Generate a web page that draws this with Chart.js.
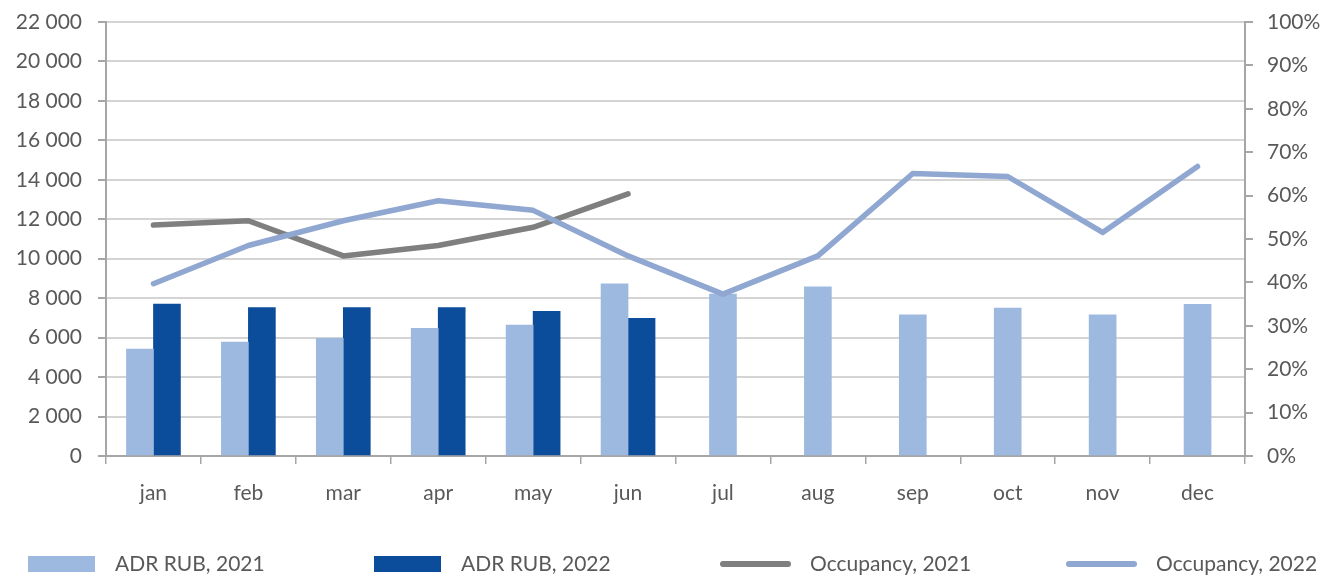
<!DOCTYPE html>
<html>
<head>
<meta charset="utf-8">
<script src="https://cdn.jsdelivr.net/npm/chart.js@4.4.0/dist/chart.umd.min.js"></script>
<style>
  html, body { margin: 0; padding: 0; background: #ffffff; }
  #wrap { width: 1337px; height: 577px; position: relative; }
</style>
</head>
<body>
<div id="wrap"><canvas id="c"></canvas></div>
<script>
// ---- data ----
const months = ['jan', 'feb', 'mar', 'apr', 'may', 'jun', 'jul', 'aug', 'sep', 'oct', 'nov', 'dec'];
const adr2021 = [5420, 5780, 5970, 6470, 6640, 8730, 8210, 8570, 7160, 7500, 7160, 7690];
const adr2022 = [7700, 7520, 7520, 7520, 7330, 6980, null, null, null, null, null, null];
const occ2021 = [53.2, 54.2, 46.1, 48.5, 52.7, 60.4, null, null, null, null, null, null];
const occ2022 = [39.7, 48.5, 54.2, 58.8, 56.6, 46.1, 37.3, 46.1, 65.1, 64.4, 51.5, 66.7];
const seriesLabels = ['ADR RUB, 2021', 'ADR RUB, 2022', 'Occupancy, 2021', 'Occupancy, 2022'];
const leftAxis = { min: 0, max: 22000, step: 2000 };
const rightAxis = { min: 0, max: 100, step: 10 };

// ---- styles ----
const COL = {
  bar21: '#9db9df', bar22: '#0c4d9b', occ21: '#7f7f80', occ22: '#8fa7d1',
  axis: '#a6a6a6', grid: '#d4d4d4', text: '#595959'
};
const FONT = 'Lato';

function fmtThousands(v) {
  return String(v).replace(/\B(?=(\d{3})+(?!\d))/g, '\u2005');
}

const customLegend = {
  id: 'customLegend',
  afterDraw(chart, args, opts) {
    const ctx = chart.ctx;
    ctx.save();
    ctx.font = opts.fontSize + 'px ' + FONT;
    ctx.textBaseline = 'middle';
    ctx.textAlign = 'left';
    chart.data.datasets.forEach((ds, i) => {
      const x = opts.start + i * opts.step;
      const y = opts.y;
      let tx;
      if (ds.type === 'bar') {
        ctx.fillStyle = ds.backgroundColor;
        ctx.fillRect(x, y - 8, 67, 16);
        tx = x + 87;
      } else {
        ctx.strokeStyle = ds.borderColor;
        ctx.lineWidth = 6;
        ctx.lineCap = 'round';
        ctx.beginPath();
        ctx.moveTo(x + 3, y);
        ctx.lineTo(x + 68, y);
        ctx.stroke();
        tx = x + 90;
      }
      ctx.fillStyle = COL.text;
      ctx.fillText(ds.label, tx, y);
    });
    ctx.restore();
  }
};

Chart.defaults.font.family = FONT;
Chart.defaults.font.size = 21;
Chart.defaults.color = COL.text;

new Chart(document.getElementById('c'), {
  data: {
    labels: months,
    datasets: [
      { type: 'bar', label: seriesLabels[0], data: adr2021, backgroundColor: COL.bar21, yAxisID: 'y', order: 2, barThickness: 27, skipNull: true },
      { type: 'bar', label: seriesLabels[1], data: adr2022, backgroundColor: COL.bar22, yAxisID: 'y', order: 3, barThickness: 27, skipNull: true },
      { type: 'line', label: seriesLabels[2], data: occ2021, borderColor: COL.occ21, backgroundColor: COL.occ21, borderWidth: 5.5, pointRadius: 0, pointHoverRadius: 0, tension: 0, borderCapStyle: 'round', borderJoinStyle: 'round', yAxisID: 'y1', order: 1, spanGaps: false },
      { type: 'line', label: seriesLabels[3], data: occ2022, borderColor: COL.occ22, backgroundColor: COL.occ22, borderWidth: 5.5, pointRadius: 0, pointHoverRadius: 0, tension: 0, borderCapStyle: 'round', borderJoinStyle: 'round', yAxisID: 'y1', order: 0, spanGaps: false }
    ]
  },
  options: {
    responsive: true,
    maintainAspectRatio: false,
    animation: false,
    layout: { padding: { top: 22, bottom: 60, left: 0, right: 0 } },
    plugins: {
      legend: { display: false },
      tooltip: { enabled: false },
      customLegend: { start: 28, step: 346, y: 564, fontSize: 21 }
    },
    scales: {
      x: {
        offset: true,
        grid: { offset: true, drawOnChartArea: false, drawTicks: true, tickLength: 8, color: COL.axis, lineWidth: 1.5 },
        border: { color: COL.axis, width: 2 },
        ticks: { padding: 17, color: COL.text, font: { size: 21 } },
        afterFit(s) { s.height = 61; }
      },
      y: {
        position: 'left',
        min: leftAxis.min, max: leftAxis.max,
        ticks: { stepSize: leftAxis.step, padding: 16, color: COL.text, font: { size: 21, lineHeight: 0.4 }, callback: v => fmtThousands(v) },
        grid: { color: COL.grid, lineWidth: 2, tickLength: 8, tickColor: COL.axis, tickWidth: 2 },
        border: { color: COL.axis, width: 2 },
        afterFit(s) { s.width = 106; }
      },
      y1: {
        position: 'right',
        min: rightAxis.min, max: rightAxis.max,
        ticks: { stepSize: rightAxis.step, padding: 14, color: COL.text, font: { size: 21, lineHeight: 0.4 }, callback: v => v + '%' },
        grid: { drawOnChartArea: false, tickLength: 8, color: COL.axis, lineWidth: 2 },
        border: { color: COL.axis, width: 2 },
        afterFit(s) { s.width = 92; }
      }
    }
  },
  plugins: [customLegend]
});
</script>
</body>
</html>
